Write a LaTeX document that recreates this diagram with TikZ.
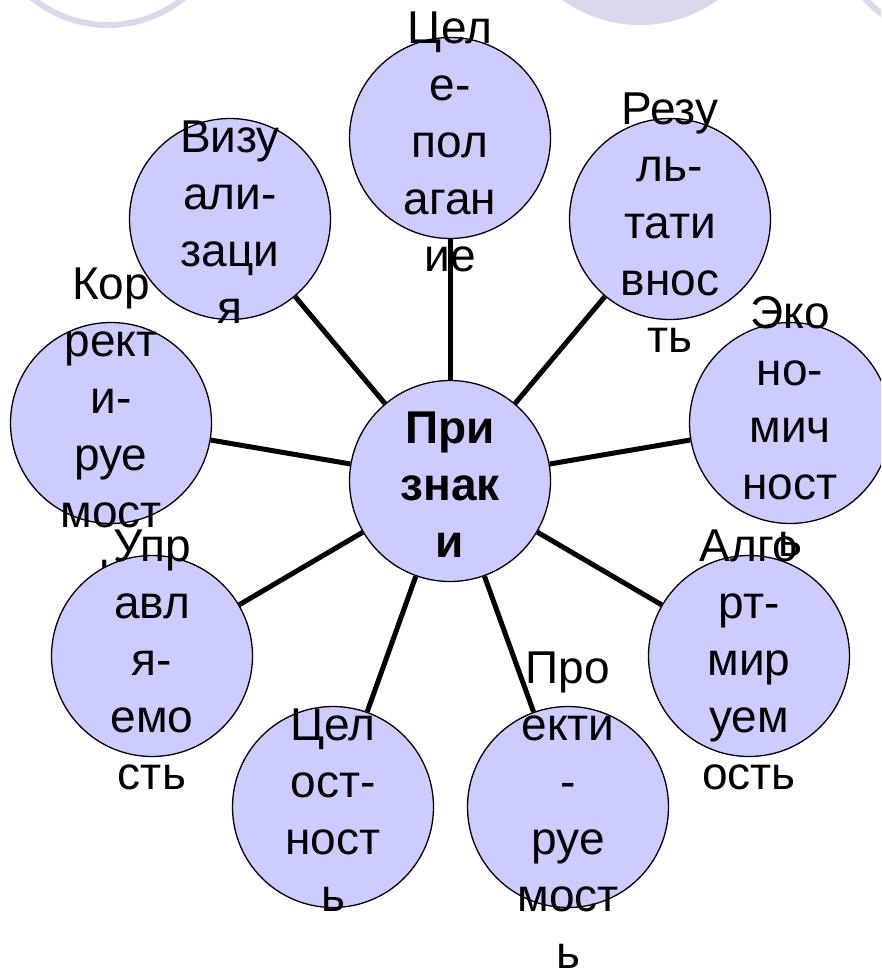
\documentclass[tikz,border=0pt]{standalone}
\usepackage{fontspec}
\setmainfont{Liberation Sans}
\usetikzlibrary{backgrounds}
\definecolor{nodefill}{RGB}{204,204,255}
\definecolor{deco}{RGB}{219,217,237}
\begin{document}
\begin{tikzpicture}[x=1pt,y=-1pt,
  nodecirc/.style={circle,draw=black,line width=1.3pt,fill=nodefill,minimum size=201pt,inner sep=0pt},
  bubtext/.style={align=center,font=\fontsize{46}{57}\selectfont,inner sep=0pt},
  spoke/.style={line width=5pt,draw=black}]
\useasboundingbox (0,0) rectangle (881,973);
\clip (0,0) rectangle (881,973);
% background decorations
\fill[deco] (640,-108) circle[radius=133];
\draw[deco,line width=6pt] (108,-95) circle[radius=120];
\draw[deco,line width=6pt] (960,-90) circle[radius=130];
% nodes (drawn counterclockwise from top)
\node[nodecirc] (b1) at (450,138) {};
\node[bubtext] (t1) at (450,146) {\strut Цел\\е-\\пол\\аган\\ие\strut};
\node[nodecirc] (b9) at (230,219) {};
\node[bubtext] (t9) at (230,227) {\strut Визу\\али-\\заци\\я\strut};
\node[nodecirc] (b8) at (111,423) {};
\node[bubtext] (t8) at (111,431) {\strut Кор\\рект\\и-\\руе\\мост\\ь\strut};
\node[nodecirc] (b7) at (152,656) {};
\node[bubtext] (t7) at (152,664) {\strut Упр\\авл\\я-\\емо\\сть\strut};
\node[nodecirc] (b6) at (333,807) {};
\node[bubtext] (t6) at (333,815) {\strut Цел\\ост-\\ност\\ь\strut};
\node[nodecirc] (b5) at (568,807) {};
\node[bubtext] (t5) at (568,815) {\strut Про\\екти\\-\\руе\\мост\\ь\strut};
\node[nodecirc] (b4) at (749,656) {};
\node[bubtext] (t4) at (749,664) {\strut Алго\\рт-\\мир\\уем\\ость\strut};
\node[nodecirc] (b3) at (790,423) {};
\node[bubtext] (t3) at (790,431) {\strut Эко\\но-\\мич\\ност\\ь\strut};
\node[nodecirc] (b2) at (670,219) {};
\node[bubtext] (t2) at (670,227) {\strut Резу\\ль-\\тати\\внос\\ть\strut};
\node[nodecirc] (b0) at (450,481) {};
\node[bubtext,font=\fontsize{46}{57}\selectfont\bfseries] (t0) at (450,489) {\strut При\\знак\\и\strut};
% spokes
\begin{scope}[on background layer]
\foreach \n in {b1,b2,b3,b4,b5,b6,b7,b8,b9}
  \draw[spoke] (b0) -- (\n);
\end{scope}
\end{tikzpicture}
\end{document}
